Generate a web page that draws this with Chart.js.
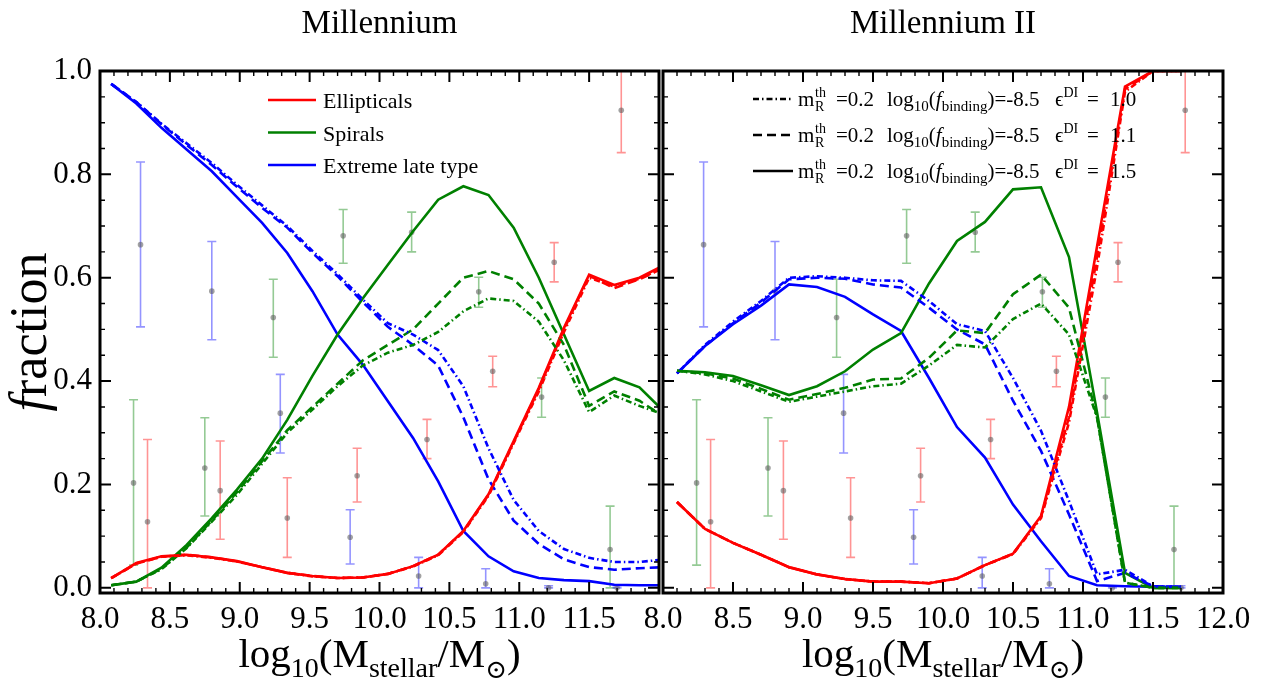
<!DOCTYPE html>
<html>
<head>
<meta charset="utf-8">
<script src="https://cdn.jsdelivr.net/npm/chart.js@4.4.0/dist/chart.umd.min.js"></script>
<style>
  html, body { margin: 0; padding: 0; background: #fff; }
  #wrap { position: relative; width: 1270px; height: 684px; }
  #wrap canvas { position: absolute; left: 0; top: 0; }
</style>
</head>
<body>
<div id="wrap">
  <canvas id="mill" width="1270" height="684"></canvas>
  <canvas id="mill2" width="1270" height="684"></canvas>
</div>
<script>
// ---- data ----
// Millennium model curves (bins every ~0.18 dex)
var millX = [8.08, 8.26, 8.44, 8.62, 8.80, 8.98, 9.16, 9.34, 9.52, 9.70, 9.88, 10.06,
             10.24, 10.42, 10.60, 10.78, 10.96, 11.14, 11.32, 11.50, 11.68, 11.86, 12.04];
var millEllip15 = [0.019, 0.048, 0.061, 0.064, 0.059, 0.052, 0.040, 0.029, 0.023, 0.019, 0.020, 0.027,
                   0.042, 0.064, 0.110, 0.181, 0.284, 0.387, 0.503, 0.606, 0.586, 0.600, 0.625];
var millEllip11 = [0.019, 0.047, 0.060, 0.064, 0.059, 0.051, 0.040, 0.029, 0.023, 0.019, 0.020, 0.027,
                   0.042, 0.064, 0.109, 0.180, 0.282, 0.385, 0.500, 0.604, 0.580, 0.597, 0.620];
var millEllip10 = [0.019, 0.047, 0.060, 0.063, 0.058, 0.051, 0.040, 0.029, 0.022, 0.019, 0.020, 0.027,
                   0.041, 0.063, 0.108, 0.178, 0.280, 0.380, 0.495, 0.600, 0.583, 0.598, 0.620];
var millSpiral15 = [0.005, 0.012, 0.039, 0.083, 0.135, 0.190, 0.250, 0.325, 0.410, 0.490, 0.560, 0.625,
                    0.690, 0.751, 0.777, 0.760, 0.697, 0.600, 0.490, 0.381, 0.406, 0.388, 0.340];
var millSpiral11 = [0.005, 0.012, 0.037, 0.078, 0.130, 0.185, 0.245, 0.305, 0.350, 0.395, 0.440, 0.470,
                    0.500, 0.550, 0.600, 0.613, 0.597, 0.550, 0.470, 0.352, 0.380, 0.362, 0.330];
var millSpiral10 = [0.005, 0.012, 0.036, 0.077, 0.128, 0.180, 0.240, 0.300, 0.345, 0.390, 0.430, 0.455,
                    0.470, 0.495, 0.535, 0.560, 0.555, 0.515, 0.440, 0.340, 0.372, 0.352, 0.335];
var millLate15 = [0.975, 0.937, 0.890, 0.848, 0.806, 0.756, 0.706, 0.648, 0.574, 0.490, 0.432, 0.361,
                  0.290, 0.206, 0.110, 0.061, 0.032, 0.019, 0.015, 0.013, 0.006, 0.005, 0.005];
var millLate11 = [0.975, 0.940, 0.897, 0.857, 0.818, 0.776, 0.735, 0.697, 0.648, 0.603, 0.553, 0.505,
                  0.470, 0.430, 0.330, 0.210, 0.130, 0.085, 0.055, 0.040, 0.035, 0.038, 0.040];
var millLate10 = [0.975, 0.940, 0.898, 0.860, 0.822, 0.780, 0.740, 0.700, 0.652, 0.607, 0.558, 0.512,
                  0.490, 0.460, 0.390, 0.270, 0.170, 0.110, 0.075, 0.058, 0.050, 0.050, 0.055];

// Millennium II model curves (bins every 0.2 dex)
var mill2X = [8.1, 8.3, 8.5, 8.7, 8.9, 9.1, 9.3, 9.5, 9.7, 9.9, 10.1, 10.3, 10.5, 10.7, 10.9, 11.1, 11.3, 11.5, 11.7];
var mill2Ellip15 = [0.166, 0.114, 0.087, 0.064, 0.040, 0.026, 0.017, 0.012, 0.012, 0.009, 0.018, 0.044,
                    0.066, 0.139, 0.350, 0.660, 0.970, 1.000, 1.000];
var mill2Ellip11 = [0.166, 0.114, 0.087, 0.064, 0.040, 0.026, 0.017, 0.012, 0.012, 0.009, 0.018, 0.044,
                    0.066, 0.137, 0.330, 0.640, 0.965, 1.000, 1.000];
var mill2Ellip10 = [0.166, 0.114, 0.087, 0.064, 0.040, 0.026, 0.017, 0.012, 0.012, 0.009, 0.018, 0.044,
                    0.065, 0.135, 0.320, 0.620, 0.960, 1.000, 1.000];
var mill2Spiral15 = [0.420, 0.417, 0.410, 0.392, 0.373, 0.390, 0.419, 0.461, 0.493, 0.589, 0.671, 0.708,
                     0.771, 0.775, 0.640, 0.340, 0.029, 0.000, 0.000];
var mill2Spiral11 = [0.420, 0.415, 0.405, 0.385, 0.364, 0.375, 0.387, 0.403, 0.405, 0.445, 0.498, 0.493,
                     0.568, 0.606, 0.542, 0.330, 0.010, 0.000, 0.000];
var mill2Spiral10 = [0.420, 0.413, 0.400, 0.380, 0.360, 0.370, 0.380, 0.390, 0.395, 0.430, 0.470, 0.465,
                     0.520, 0.550, 0.490, 0.330, 0.010, 0.000, 0.000];
var mill2Late15 = [0.415, 0.468, 0.510, 0.546, 0.587, 0.582, 0.563, 0.529, 0.497, 0.406, 0.311, 0.252,
                   0.161, 0.090, 0.023, 0.005, 0.003, 0.002, 0.002];
var mill2Late11 = [0.415, 0.468, 0.512, 0.552, 0.597, 0.600, 0.598, 0.587, 0.581, 0.542, 0.500, 0.471,
                   0.362, 0.265, 0.142, 0.013, 0.029, 0.003, 0.002];
var mill2Late10 = [0.415, 0.470, 0.515, 0.555, 0.600, 0.603, 0.600, 0.595, 0.594, 0.555, 0.510, 0.497,
                   0.406, 0.304, 0.168, 0.026, 0.035, 0.003, 0.002];

// observed fractions with error bars (same in both panels)
var obsSpiralX  = [8.24, 8.75, 9.24, 9.74, 10.23, 10.71, 11.16, 11.65];
var obsSpiralY  = [0.203, 0.232, 0.523, 0.681, 0.688, 0.573, 0.369, 0.074];
var obsSpiralLo = [0.044, 0.139, 0.446, 0.628, 0.650, 0.543, 0.330, 0.000];
var obsSpiralHi = [0.364, 0.329, 0.597, 0.732, 0.727, 0.601, 0.406, 0.158];
var obsLateX  = [8.29, 8.80, 9.29, 9.79, 10.28, 10.76, 11.21, 11.70];
var obsLateY  = [0.664, 0.574, 0.338, 0.098, 0.023, 0.008, 0.000, 0.000];
var obsLateLo = [0.505, 0.480, 0.261, 0.046, 0.000, 0.000, 0.000, 0.000];
var obsLateHi = [0.824, 0.670, 0.413, 0.151, 0.059, 0.037, 0.004, 0.004];
var obsEllipX  = [8.34, 8.86, 9.34, 9.84, 10.34, 10.81, 11.25, 11.73];
var obsEllipY  = [0.128, 0.188, 0.135, 0.217, 0.287, 0.419, 0.630, 0.924];
var obsEllipLo = [0.000, 0.094, 0.059, 0.166, 0.250, 0.389, 0.592, 0.842];
var obsEllipHi = [0.287, 0.284, 0.213, 0.270, 0.326, 0.448, 0.668, 1.010];

// axes
var xTickVals = [8.0, 8.5, 9.0, 9.5, 10.0, 10.5, 11.0, 11.5, 12.0];
var yTickVals = [0.0, 0.2, 0.4, 0.6, 0.8, 1.0];
var typeNames = ['Ellipticals', 'Spirals', 'Extreme late type'];
var runEps = ['1.0', '1.1', '1.5'];

// ---- styling ----
var SERIF = '"Liberation Serif", "DejaVu Serif", serif';
var RED = '#ff0000', GREEN = '#008000', BLUE = '#0000ff';
var DASH = { '1.0': [6, 3, 1.5, 3], '1.1': [9, 5], '1.5': [] };
var W = 1270, H = 684;
var AREA_TOP = 71, AREA_BOTTOM = 593;

function pts(xs, ys) {
  return xs.map(function (x, i) { return { x: x, y: ys[i] }; });
}

function lineSet(xs, ys, color, eps) {
  return {
    type: 'line',
    data: pts(xs, ys),
    borderColor: color,
    borderWidth: 2.6,
    borderDash: DASH[eps],
    pointRadius: 0,
    tension: 0,
    fill: false,
    order: 1
  };
}

function obsSet(xs, ys) {
  return {
    type: 'scatter',
    data: pts(xs, ys),
    pointRadius: 2.8,
    pointBackgroundColor: 'rgba(85,85,85,0.55)',
    pointBorderWidth: 0,
    order: 10
  };
}

function drawRuns(ctx, x, y, runs) {
  runs.forEach(function (r) {
    ctx.font = (r[3] ? r[3] + ' ' : '') + r[1] + 'px ' + SERIF;
    ctx.fillText(r[0], x, y + r[2]);
    x += ctx.measureText(r[0]).width;
  });
  return x;
}

function runsWidth(ctx, runs) {
  var w = 0;
  runs.forEach(function (r) {
    ctx.font = (r[3] ? r[3] + ' ' : '') + r[1] + 'px ' + SERIF;
    w += ctx.measureText(r[0]).width;
  });
  return w;
}

// frame, inward ticks, error bars, titles and legends
var decor = {
  id: 'decor',
  beforeDatasetsDraw: function (chart, args, opts) {
    var ctx = chart.ctx, xs = chart.scales.x, ys = chart.scales.y, a = chart.chartArea;
    ctx.save();
    ctx.beginPath();
    ctx.rect(a.left, a.top, a.right - a.left, a.bottom - a.top);
    ctx.clip();
    ctx.lineWidth = 1.6;
    [[obsSpiralX, obsSpiralLo, obsSpiralHi, 'rgba(0,128,0,0.42)'],
     [obsEllipX, obsEllipLo, obsEllipHi, 'rgba(255,0,0,0.42)'],
     [obsLateX, obsLateLo, obsLateHi, 'rgba(0,0,255,0.42)']].forEach(function (s) {
      ctx.strokeStyle = s[3];
      s[0].forEach(function (x, i) {
        var px = xs.getPixelForValue(x);
        var p1 = ys.getPixelForValue(s[1][i]), p2 = ys.getPixelForValue(s[2][i]);
        ctx.beginPath();
        ctx.moveTo(px, p1); ctx.lineTo(px, p2);
        ctx.moveTo(px - 4.5, p1); ctx.lineTo(px + 4.5, p1);
        ctx.moveTo(px - 4.5, p2); ctx.lineTo(px + 4.5, p2);
        ctx.stroke();
      });
    });
    ctx.restore();
  },
  afterDatasetsDraw: function (chart, args, opts) {
    var ctx = chart.ctx, xs = chart.scales.x, ys = chart.scales.y, a = chart.chartArea;
    ctx.save();
    ctx.strokeStyle = '#000';
    // minor + major ticks pointing inward on all four sides
    var i, v, p, len;
    for (i = 80; i <= 120; i++) {
      v = i / 10;
      p = xs.getPixelForValue(v);
      len = (i % 5 === 0) ? 11 : 5;
      ctx.lineWidth = (i % 5 === 0) ? 2 : 1.4;
      ctx.beginPath();
      ctx.moveTo(p, a.bottom); ctx.lineTo(p, a.bottom - len);
      ctx.moveTo(p, a.top); ctx.lineTo(p, a.top + len);
      ctx.stroke();
    }
    for (i = 0; i <= 20; i++) {
      v = i / 20;
      p = ys.getPixelForValue(v);
      len = (i % 4 === 0) ? 11 : 5;
      ctx.lineWidth = (i % 4 === 0) ? 2 : 1.4;
      ctx.beginPath();
      ctx.moveTo(a.left, p); ctx.lineTo(a.left + len, p);
      ctx.moveTo(a.right, p); ctx.lineTo(a.right - len, p);
      ctx.stroke();
    }
    ctx.lineWidth = 3;
    ctx.strokeRect(a.left, a.top, a.right - a.left, a.bottom - a.top);

    ctx.fillStyle = '#000';
    ctx.textBaseline = 'alphabetic';
    var cx = (a.left + a.right) / 2;

    // panel title
    ctx.font = '33px ' + SERIF;
    ctx.textAlign = 'center';
    ctx.fillText(opts.title, cx, 33);

    // x axis title
    ctx.textAlign = 'left';
    var xt = [['log', 41, 0], ['10', 28, 10], ['(M', 41, 0], ['stellar', 28, 10],
              ['/M', 41, 0], ['\u2299', 26, 11], [')', 41, 0]];
    drawRuns(ctx, cx - runsWidth(ctx, xt) / 2, 667, xt);

    if (opts.left) {
      // y axis title
      ctx.save();
      ctx.translate(46, (a.top + a.bottom) / 2);
      ctx.rotate(-Math.PI / 2);
      var yt = [['f', 52, 0, 'italic'], ['raction', 52, 0]];
      drawRuns(ctx, -runsWidth(ctx, yt) / 2, 0, yt);
      ctx.restore();

      // legend: galaxy types
      var cols = [RED, GREEN, BLUE];
      typeNames.forEach(function (name, k) {
        var y = 100 + k * 32.5;
        ctx.strokeStyle = cols[k];
        ctx.lineWidth = 2.6;
        ctx.beginPath(); ctx.moveTo(268, y); ctx.lineTo(316, y); ctx.stroke();
        ctx.font = '22px ' + SERIF;
        ctx.fillText(name, 323, y + 8);
      });
    } else {
      // legend: model runs
      runEps.forEach(function (eps, k) {
        var y = 99 + k * 36;
        var b = y + 7;
        ctx.strokeStyle = '#000';
        ctx.lineWidth = 2.6;
        ctx.setLineDash(DASH[eps]);
        ctx.beginPath(); ctx.moveTo(753, y); ctx.lineTo(793, y); ctx.stroke();
        ctx.setLineDash([]);
        drawRuns(ctx, 798, b, [['m', 21, 0]]);
        drawRuns(ctx, 815, b, [['R', 14, 5]]);
        drawRuns(ctx, 815, b, [['th', 14, -9]]);
        drawRuns(ctx, 836, b, [['=0.2', 21, 0]]);
        drawRuns(ctx, 887, b, [['log', 21, 0], ['10', 15, 5], ['(', 21, 0], ['f', 21, 0, 'italic'],
                               ['binding', 15, 5], [')', 21, 0], ['=-8.5', 21, 0]]);
        drawRuns(ctx, 1055, b, [['\u03f5', 21, 0], ['DI', 14, -9]]);
        drawRuns(ctx, 1087, b, [['=', 21, 0]]);
        drawRuns(ctx, 1110, b, [[eps, 21, 0]]);
      });
    }
    ctx.restore();
  }
};

function panel(canvasId, xs, ell, spi, late, left) {
  var datasets = [
    obsSet(obsSpiralX, obsSpiralY), obsSet(obsEllipX, obsEllipY), obsSet(obsLateX, obsLateY)
  ];
  runEps.forEach(function (eps, k) {
    datasets.push(lineSet(xs, ell[k], RED, eps));
    datasets.push(lineSet(xs, spi[k], GREEN, eps));
    datasets.push(lineSet(xs, late[k], BLUE, eps));
  });
  var pad = left ? { left: 0, top: AREA_TOP, right: W - 659, bottom: 0 }
                 : { left: 663, top: AREA_TOP, right: W - 1223, bottom: 0 };
  return new Chart(document.getElementById(canvasId), {
    type: 'line',
    data: { datasets: datasets },
    options: {
      responsive: false,
      animation: false,
      devicePixelRatio: 1,
      layout: { padding: pad },
      plugins: {
        legend: { display: false },
        tooltip: { enabled: false },
        decor: { title: left ? 'Millennium' : 'Millennium II', left: left }
      },
      scales: {
        x: {
          type: 'linear', min: 8, max: 12,
          grid: { display: false, drawTicks: false },
          border: { display: false },
          afterBuildTicks: function (s) { s.ticks = xTickVals.map(function (v) { return { value: v }; }); },
          ticks: {
            autoSkip: false, maxRotation: 0, minRotation: 0, padding: 8, color: '#000',
            font: { family: SERIF, size: 31 },
            callback: function (v) { return (left && v === 12) ? '' : v.toFixed(1); }
          },
          afterFit: function (s) { s.height = H - AREA_BOTTOM; s.paddingLeft = 0; s.paddingRight = 0; }
        },
        y: {
          type: 'linear', min: -0.01, max: 1.0,
          display: left,
          grid: { display: false, drawTicks: false },
          border: { display: false },
          afterBuildTicks: function (s) { s.ticks = yTickVals.map(function (v) { return { value: v }; }); },
          ticks: {
            padding: 8, color: '#000',
            font: { family: SERIF, size: 31 },
            callback: function (v) { return v.toFixed(1); }
          },
          afterFit: function (s) { s.width = left ? 100 : 0; s.paddingTop = 0; s.paddingBottom = 0; }
        }
      }
    },
    plugins: [decor]
  });
}

panel('mill', millX,
      [millEllip10, millEllip11, millEllip15],
      [millSpiral10, millSpiral11, millSpiral15],
      [millLate10, millLate11, millLate15], true);
panel('mill2', mill2X,
      [mill2Ellip10, mill2Ellip11, mill2Ellip15],
      [mill2Spiral10, mill2Spiral11, mill2Spiral15],
      [mill2Late10, mill2Late11, mill2Late15], false);
</script>
</body>
</html>
